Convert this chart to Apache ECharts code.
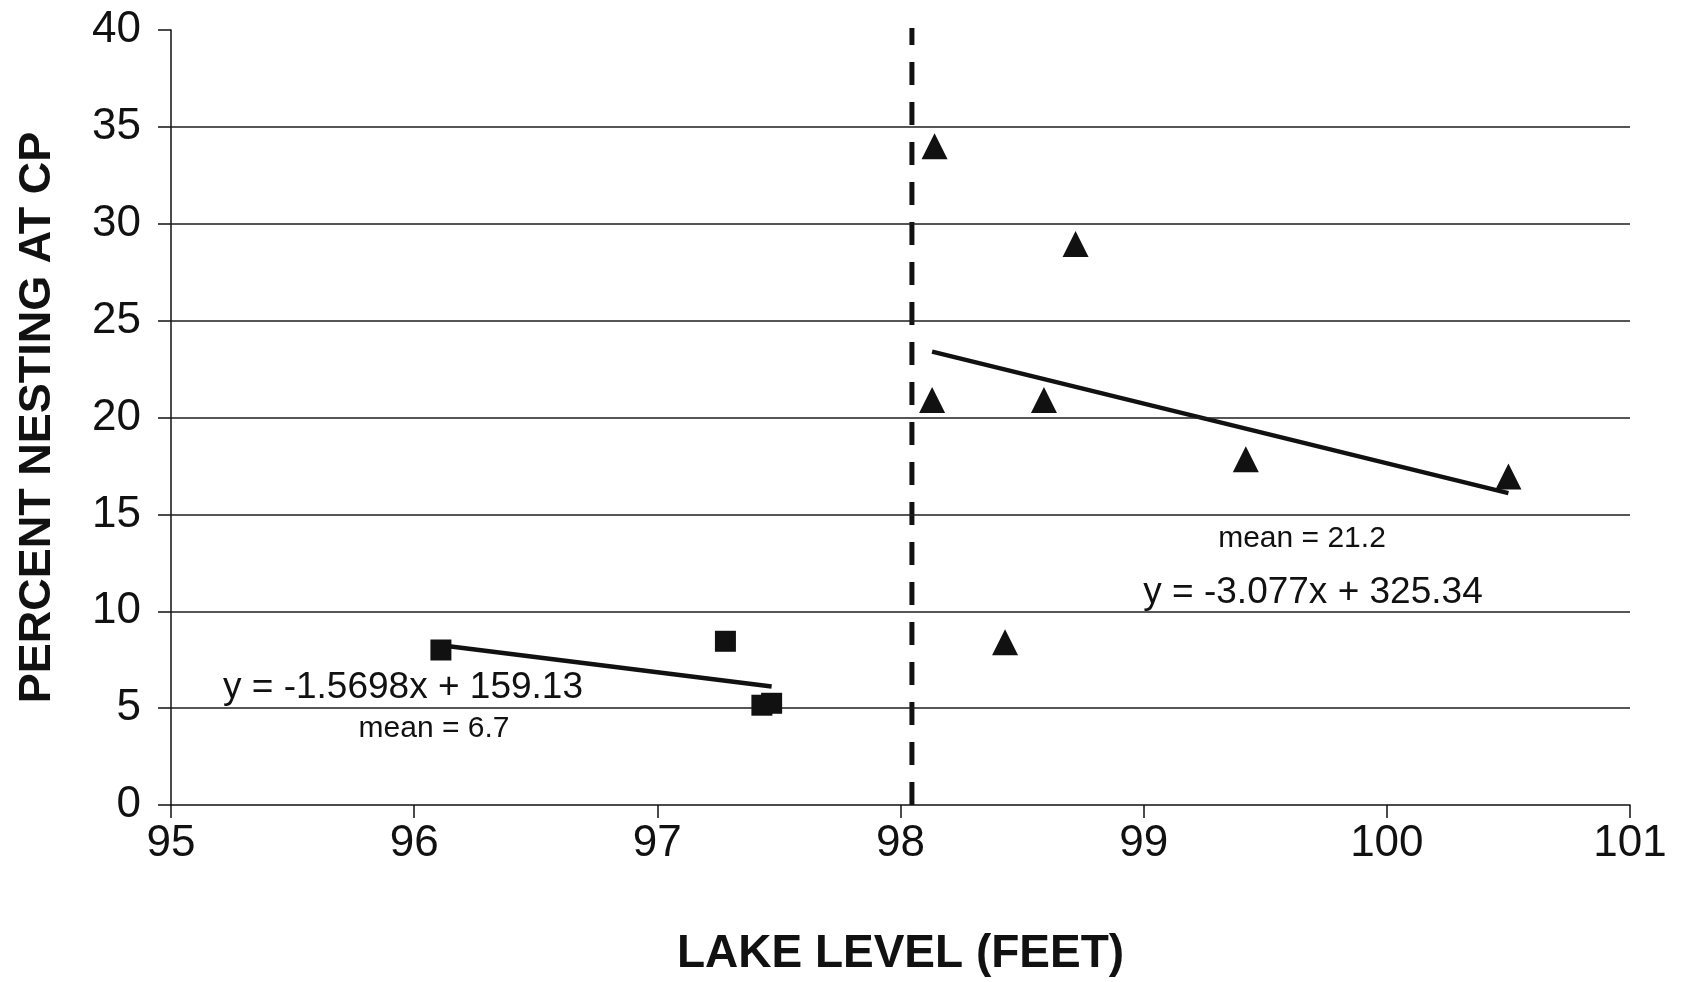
<!DOCTYPE html>
<html>
<head>
<meta charset="utf-8">
<script src="https://cdn.jsdelivr.net/npm/echarts@6/dist/echarts.min.js"></script>
<style>
html,body{margin:0;padding:0;background:#fff;}
#chart{width:1681px;height:982px;}
</style>
</head>
<body>
<div id="chart"></div>
<script>
// Data
const squareX = [96.11, 97.28, 97.43, 97.47];
const squareY = [8.0, 8.45, 5.15, 5.25];
const triangleX = [98.14, 98.72, 98.13, 98.59, 99.42, 100.50, 98.43];
const triangleY = [34.0, 28.95, 20.9, 20.9, 17.85, 16.95, 8.4];
const trendLowX = [96.11, 97.47];
const trendLowY = [8.25, 6.12];
const trendHighX = [98.13, 100.5];
const trendHighY = [23.4, 16.1];
const dividerX = [98.047, 98.047];
const dividerY = [0, 40.1];
const gridLevels = [5, 10, 15, 20, 25, 30, 35];
const annotations = [
  { text: 'y = -1.5698x + 159.13', size: 37 },
  { text: 'mean = 6.7', size: 30 },
  { text: 'mean = 21.2', size: 30 },
  { text: 'y = -3.077x + 325.34', size: 37 }
];
const xAxisTitle = 'LAKE LEVEL (FEET)';
const yAxisTitle = 'PERCENT NESTING AT CP';

const zip = (xs, ys) => xs.map((x, i) => [x, ys[i]]);
const FONT = '"Liberation Sans", Arial, sans-serif';
const INK = '#111111';

const chart = echarts.init(document.getElementById('chart'), null, { renderer: 'canvas' });

const annPos = [
  { left: 403, top: 688 },
  { left: 434, top: 729 },
  { left: 1302, top: 539 },
  { left: 1313, top: 593 }
];

chart.setOption({
  backgroundColor: '#ffffff',
  animation: false,
  grid: { left: 171, right: 51, top: 30, bottom: 177, containLabel: false },
  xAxis: {
    type: 'value', min: 95, max: 101, interval: 1,
    name: xAxisTitle, nameLocation: 'middle', nameGap: 126,
    nameTextStyle: { fontFamily: FONT, fontWeight: 'bold', fontSize: 46, color: INK },
    axisLine: { show: true, lineStyle: { color: INK, width: 1.5 } },
    axisTick: { show: true, inside: false, length: 13, lineStyle: { color: INK, width: 1.5 } },
    axisLabel: { fontFamily: FONT, fontSize: 44, color: INK, margin: 17 },
    splitLine: { show: false }
  },
  yAxis: {
    type: 'value', min: 0, max: 40, interval: 5,
    name: yAxisTitle, nameLocation: 'middle', nameGap: 111,
    nameTextStyle: { fontFamily: FONT, fontWeight: 'bold', fontSize: 45, color: INK },
    axisLine: { show: true, lineStyle: { color: INK, width: 1.5 } },
    axisTick: { show: true, inside: false, length: 13, lineStyle: { color: INK, width: 1.5 } },
    axisLabel: { fontFamily: FONT, fontSize: 44, color: INK, margin: 30 },
    splitLine: { show: false }
  },
  series: [
    {
      type: 'line', data: [], silent: true,
      markLine: {
        silent: true, symbol: 'none', animation: false,
        label: { show: false },
        lineStyle: { color: '#1e1e1e', width: 1.6, type: 'solid' },
        data: gridLevels.map(v => ({ yAxis: v }))
      }
    },
    {
      type: 'line', data: zip(dividerX, dividerY), symbol: 'none', silent: true,
      lineStyle: { color: INK, width: 5, type: [23, 17], dashOffset: 0 },
      z: 3
    },
    {
      type: 'line', data: zip(trendLowX, trendLowY), symbol: 'none', silent: true,
      lineStyle: { color: INK, width: 4.5 }, z: 4
    },
    {
      type: 'line', data: zip(trendHighX, trendHighY), symbol: 'none', silent: true,
      lineStyle: { color: INK, width: 4.5 }, z: 4
    },
    {
      type: 'scatter', data: zip(squareX, squareY), symbol: 'rect', symbolSize: 21,
      itemStyle: { color: INK, opacity: 1 }, z: 5
    },
    {
      type: 'scatter', data: zip(triangleX, triangleY), symbol: 'triangle', symbolSize: 26,
      itemStyle: { color: INK, opacity: 1 }, z: 5
    }
  ],
  graphic: annotations.map((a, i) => ({
    type: 'text', x: annPos[i].left, y: annPos[i].top, z: 10,
    style: {
      text: a.text, fontFamily: FONT, fontSize: a.size, fill: INK,
      align: 'center', verticalAlign: 'middle'
    }
  }))
});
</script>
</body>
</html>
